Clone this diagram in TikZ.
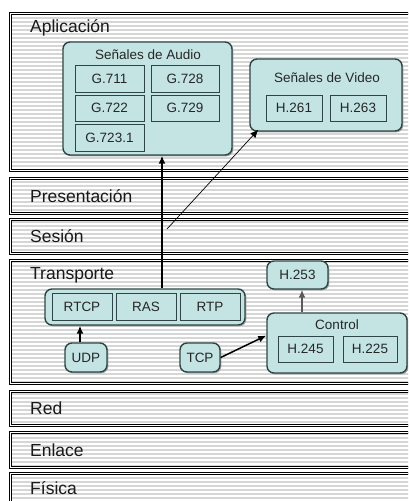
\documentclass[tikz,border=0pt]{standalone}
\usepackage{fontspec}
\setmainfont{Liberation Sans}
\usetikzlibrary{shadows,calc,arrows.meta}

\definecolor{boxfill}{HTML}{C4E4E4}
\definecolor{boxline}{HTML}{2F4545}
\definecolor{stripe}{HTML}{D6D6D6}

\tikzset{
  group/.style={draw=boxline, line width=1.4pt, fill=boxfill, rounded corners=7pt, inner sep=0pt,
    drop shadow={shadow xshift=1.3pt, shadow yshift=-1.3pt, fill=gray!80, opacity=0.9}},
  codec/.style={draw=boxline, line width=0.9pt, fill=boxfill, inner sep=0pt,
    font=\fontsize{13.5}{15}\selectfont, text=black!85},
  smallfont/.style={font=\fontsize{13.5}{15}\selectfont, text=black!85},
  grouptitle/.style={smallfont, inner sep=0pt},
  layer/.style={draw=black, line width=1.1pt, double=white, double distance=0.8pt},
  layername/.style={anchor=west, font=\fontsize{17.5}{20}\selectfont, text=black!90, inner sep=0pt},
  bigtip/.style={-{Latex[length=8pt,width=7pt]}},
}

\begin{document}
\begin{tikzpicture}[x=1pt, y=-1pt]
    \clip (0,0) rectangle (408,501);
    \fill[white] (0,0) rectangle (408,501);
    % capas del modelo OSI
    \begin{scope}
        \clip (10,13) rectangle (430,170) (10,178) rectangle (430,213)
              (10,219) rectangle (430,253) (10,260) rectangle (430,383)
              (10,391) rectangle (430,425) (10,432) rectangle (430,467)
              (10,473) rectangle (430,520);
        \foreach \y in {14,18,...,510}
            \draw[stripe, line width=1.2pt] (10,\y) -- (430,\y);
    \end{scope}
    \foreach \top/\bot/\ly/\lname [count=\i] in {13/170/28/Aplicación, 178/213/196/Presentación,
            219/253/236/Sesión, 260/383/275/Transporte, 391/425/408/Red,
            432/467/450/Enlace, 473/520/488/Física}
    {
        \draw[layer] (10,\top) rectangle (430,\bot);
        \node[layername] (lay\i) at (30,\ly) {\lname};
    }

    % audio
    \node[group, minimum width=169pt, minimum height=113pt] (audio) at (147.5,98.5) {};
    \node[grouptitle] (audiotitle) at (148,55) {Señales de Audio};
    \node[codec, minimum width=69pt, minimum height=27pt] (g711) at (109.5,78.5) {G.711};
    \node[codec, minimum width=68pt, minimum height=27pt] (g728) at (185,78.5) {G.728};
    \node[codec, minimum width=69pt, minimum height=26pt] (g722) at (109.5,108) {G.722};
    \node[codec, minimum width=68pt, minimum height=26pt] (g729) at (185,108) {G.729};
    \node[codec, minimum width=69pt, minimum height=27pt] (g7231) at (109.5,137.5) {G.723.1};

    % video
    \node[group, minimum width=152pt, minimum height=72pt] (video) at (326,95) {};
    \node[grouptitle] (videotitle) at (327,78) {Señales de Video};
    \node[codec, minimum width=56pt, minimum height=26pt] (h261) at (294,108) {H.261};
    \node[codec, minimum width=56pt, minimum height=26pt] (h263) at (358,108) {H.263};

    % transporte
    \node[group, minimum width=200pt, minimum height=36pt] (rtpgrp) at (145,307) {};
    \node[codec, minimum width=60pt, minimum height=27pt] (rtcp) at (82,306.5) {RTCP};
    \node[codec, minimum width=60pt, minimum height=27pt] (ras) at (146,306.5) {RAS};
    \node[codec, minimum width=60pt, minimum height=27pt] (rtp) at (210,306.5) {RTP};
    \node[group, smallfont, minimum width=42pt, minimum height=29pt] (udp) at (86,357.5) {UDP};
    \node[group, smallfont, minimum width=40pt, minimum height=29pt] (tcp) at (200,357.5) {TCP};
    \node[group, smallfont, minimum width=61pt, minimum height=28pt] (h253) at (297.5,275) {H.253};

    % control
    \node[group, minimum width=140pt, minimum height=60pt] (control) at (337,343) {};
    \node[grouptitle] (controltitle) at (337,325) {Control};
    \node[codec, minimum width=55pt, minimum height=26pt] (h245) at (305.5,349) {H.245};
    \node[codec, minimum width=54pt, minimum height=26pt] (h225) at (370,349) {H.225};

    % flechas
    \coordinate (upline) at (162,0);
    \coordinate (vidtail) at (167,229);
    \draw[bigtip, line width=1.5pt] (rtpgrp.north -| upline) -- (audio.south -| upline);
    \draw[bigtip, line width=0.7pt] (vidtail) -- ($(video.south west)+(9,-2)$);
    \draw[bigtip, line width=1.5pt] ($(udp.north)+(-6,0)$) -- ($(udp.north |- rtpgrp.south)+(-6,0)$);
    \draw[bigtip, line width=1.5pt] (tcp.east) -- (control.west |- h245.north);
    \draw[bigtip, line width=1.8pt, black!65] (control.north -| 302,0) -- (h253.south -| 302,0);
\end{tikzpicture}
\end{document}
